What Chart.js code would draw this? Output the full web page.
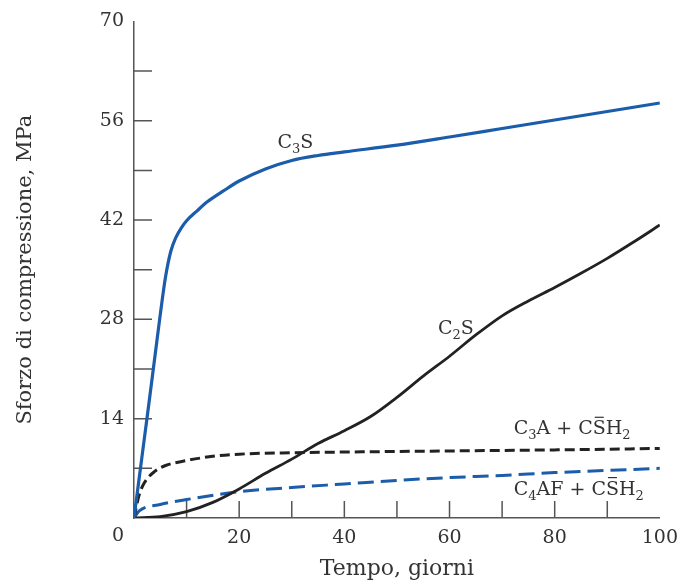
<!DOCTYPE html>
<html>
<head>
<meta charset="utf-8">
<script src="https://cdn.jsdelivr.net/npm/chart.js@4"></script>
<style>
  html, body { margin: 0; padding: 0; background: #fff; }
  #wrap { width: 687px; height: 580px; }
</style>
</head>
<body>
<div id="wrap"><canvas id="chart"></canvas></div>
<script>
// values (days, MPa)
const c3sDays = [0, 1, 2, 3, 4, 5, 6, 7, 8, 9, 10, 12, 14, 17, 20, 25, 30, 35, 40, 50, 60, 70, 80, 90, 100];
const c3sMPa  = [0, 5.7, 11.4, 17.1, 22.9, 28.7, 34.0, 37.6, 39.6, 40.9, 41.9, 43.3, 44.6, 46.1, 47.5, 49.2, 50.4, 51.1, 51.6, 52.55, 53.7, 54.9, 56.1, 57.3, 58.5];

const c2sDays = [0, 5, 10, 15, 20, 25, 30, 35, 40, 45, 50, 55, 60, 65, 70, 75, 80, 85, 90, 95, 100];
const c2sMPa  = [0, 0.2, 0.9, 2.2, 4.1, 6.3, 8.3, 10.5, 12.3, 14.3, 17.0, 20.0, 22.8, 25.8, 28.5, 30.6, 32.5, 34.5, 36.6, 38.9, 41.3];

const c3aDays = [0, 1, 2, 4, 6, 10, 15, 20, 30, 40, 60, 80, 100];
const c3aMPa  = [0, 3.3, 5.0, 6.6, 7.4, 8.1, 8.7, 9.0, 9.2, 9.3, 9.45, 9.6, 9.8];

const c4afDays = [0, 1, 5, 10, 20, 30, 40, 50, 60, 70, 80, 90, 100];
const c4afMPa  = [0, 1.0, 1.9, 2.6, 3.7, 4.3, 4.8, 5.3, 5.7, 6.0, 6.4, 6.7, 7.0];

const xMarks = [10, 20, 30, 40, 50, 60, 70, 80, 90];
const yMarks = [7, 14, 21, 28, 35, 42, 49, 56, 63];

// curve labels: [day, MPa, pieces]  (pieces: text, "sub" for subscript, "bar" for overlined)
const curveLabels = [
  [27.3, 52.2, [["C"], ["3", "sub"], ["S"]]],
  [57.8, 25.9, [["C"], ["2", "sub"], ["S"]]],
  [72.2, 11.8, [["C"], ["3", "sub"], ["A + C"], ["S", "bar"], ["H"], ["2", "sub"]]],
  [72.2, 3.3,  [["C"], ["4", "sub"], ["AF + C"], ["S", "bar"], ["H"], ["2", "sub"]]]
];

const serif = "'DejaVu Serif', 'Liberation Serif', serif";
const blue = "#1b5cab";
const black = "#222222";
const textCol = "#333333";

const pts = (xs, ys) => xs.map((x, i) => ({ x: x, y: ys[i] }));

const extras = {
  id: "extras",
  beforeDatasetsDraw(chart) {
    const ctx = chart.ctx;
    const xs = chart.scales.x, ys = chart.scales.y;
    const x0 = xs.getPixelForValue(0), y0 = ys.getPixelForValue(0);
    ctx.save();
    ctx.strokeStyle = "#555555";
    ctx.lineWidth = 1.5;
    ctx.beginPath();
    xMarks.forEach(v => {
      const px = xs.getPixelForValue(v);
      ctx.moveTo(px, y0);
      ctx.lineTo(px, y0 - 17);
    });
    yMarks.forEach(v => {
      const py = ys.getPixelForValue(v);
      ctx.moveTo(x0, py);
      ctx.lineTo(x0 + 18, py);
    });
    ctx.stroke();
    // corner zero
    ctx.fillStyle = textCol;
    ctx.font = "19px " + serif;
    ctx.textAlign = "center";
    ctx.textBaseline = "middle";
    ctx.fillText("0", x0 - 16, y0 + 18);
    ctx.restore();
  },
  afterDatasetsDraw(chart) {
    const ctx = chart.ctx;
    const xs = chart.scales.x, ys = chart.scales.y;
    ctx.save();
    ctx.fillStyle = textCol;
    ctx.strokeStyle = textCol;
    ctx.textBaseline = "alphabetic";
    ctx.textAlign = "left";
    curveLabels.forEach(([d, v, pieces]) => {
      let px = xs.getPixelForValue(d);
      const py = ys.getPixelForValue(v);
      pieces.forEach(([t, kind]) => {
        if (kind === "sub") {
          ctx.font = "13px " + serif;
          ctx.fillText(t, px, py + 5);
          px += ctx.measureText(t).width;
        } else {
          ctx.font = "19px " + serif;
          ctx.fillText(t, px, py);
          const w = ctx.measureText(t).width;
          if (kind === "bar") {
            ctx.lineWidth = 1.2;
            ctx.beginPath();
            ctx.moveTo(px + 2, py - 17);
            ctx.lineTo(px + w - 2, py - 17);
            ctx.stroke();
          }
          px += w;
        }
      });
    });
    ctx.restore();
  }
};

new Chart("chart", {
  type: "line",
  data: {
    datasets: [
      { label: "C3S", data: pts(c3sDays, c3sMPa), borderColor: blue, borderWidth: 3.2 },
      { label: "C2S", data: pts(c2sDays, c2sMPa), borderColor: black, borderWidth: 2.8 },
      { label: "C3A + CSH2", data: pts(c3aDays, c3aMPa), borderColor: black, borderWidth: 3, borderDash: [10, 5] },
      { label: "C4AF + CSH2", data: pts(c4afDays, c4afMPa), borderColor: blue, borderWidth: 3, borderDash: [16, 7] }
    ]
  },
  options: {
    responsive: true,
    maintainAspectRatio: false,
    animation: false,
    layout: { padding: { top: 19, right: 21, bottom: 0, left: 0 } },
    elements: {
      point: { radius: 0 },
      line: { cubicInterpolationMode: "monotone", fill: false }
    },
    plugins: { legend: { display: false }, tooltip: { enabled: false } },
    scales: {
      x: {
        type: "linear",
        min: 0, max: 100,
        afterFit: s => { s.height = 62; },
        grid: { display: false, drawTicks: false },
        border: { display: true, color: "#555555", width: 1.5 },
        ticks: {
          stepSize: 20, padding: 9, color: textCol,
          font: { family: serif, size: 19 },
          callback: v => (v === 0 ? "" : v)
        },
        title: {
          display: true, text: "Tempo, giorni", color: textCol,
          font: { family: serif, size: 22 }, padding: { top: 0, bottom: -2 }
        }
      },
      y: {
        min: 0, max: 70,
        afterFit: s => { s.width = 134; },
        grid: { display: false, drawTicks: false },
        border: { display: true, color: "#555555", width: 1.5 },
        ticks: {
          stepSize: 14, padding: 10, color: textCol,
          font: { family: serif, size: 19 },
          callback: v => (v === 0 ? "" : v)
        },
        title: {
          display: true, text: "Sforzo di compressione, MPa", color: textCol,
          font: { family: serif, size: 21 }, padding: { top: 13, bottom: 0 }
        }
      }
    }
  },
  plugins: [extras]
});
</script>
</body>
</html>
